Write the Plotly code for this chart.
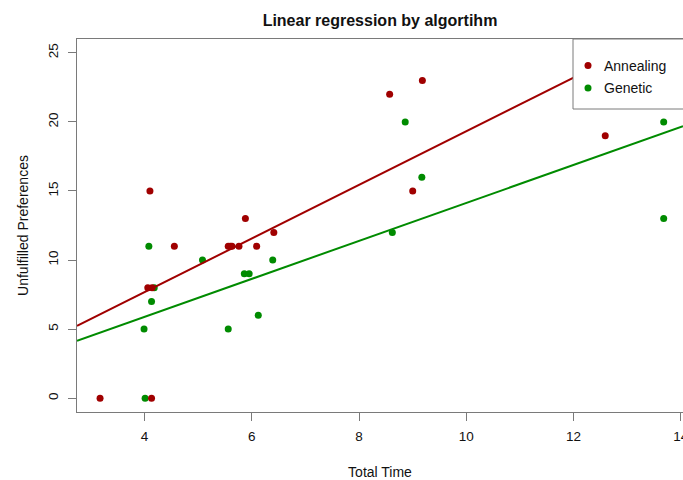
import plotly.graph_objects as go

# ---- data ----
annealing_time = [3.17, 4.13, 4.10, 4.06, 4.14, 4.555, 5.56, 5.60, 5.63, 5.76, 5.88, 6.09, 6.41, 8.57, 9.18, 9.00, 12.59]
annealing_pref = [0, 0, 15, 8, 8, 11, 11, 11, 11, 11, 13, 11, 12, 22, 23, 15, 19]

genetic_time = [4.08, 4.18, 4.13, 3.99, 4.01, 5.08, 5.56, 5.86, 5.95, 6.12, 6.39, 8.86, 9.17, 8.62, 13.68, 13.68]
genetic_pref = [11, 8, 7, 5, 0, 10, 5, 9, 9, 6, 10, 20, 16, 12, 20, 13]

# regression lines (intercept, slope)
annealing_fit = [-0.08, 1.94]
genetic_fit = [0.395, 1.374]

legend_labels = ["Annealing", "Genetic"]

x_ticks = [4, 6, 8, 10, 12, 14]
y_ticks = [0, 5, 10, 15, 20, 25]
x_range = [2.74, 14.04]
y_range = [-1, 26]

RED = "#A00000"
GREEN = "#008B00"
AX = "#7a7a7a"
TXT = "#111"
FONT = "Liberation Sans, Arial, sans-serif"

W, H = 683, 480
L, R, T, B = 77, 0, 39, 68
PW, PH = W - L - R, H - T - B


def px(xp):
    return (xp - L) / PW


def py(yp):
    return (H - B - yp) / PH


fig = go.Figure()

fig.add_trace(go.Scatter(x=genetic_time, y=genetic_pref, mode="markers", name="Genetic",
                         marker=dict(color=GREEN, size=7, line=dict(width=0)), showlegend=False))
fig.add_trace(go.Scatter(x=annealing_time, y=annealing_pref, mode="markers", name="Annealing",
                         marker=dict(color=RED, size=7, line=dict(width=0)), showlegend=False))

for fit, col in [(annealing_fit, RED), (genetic_fit, GREEN)]:
    xs = x_range
    ys = [fit[0] + fit[1] * v for v in xs]
    fig.add_trace(go.Scatter(x=xs, y=ys, mode="lines", line=dict(color=col, width=2),
                             showlegend=False, hoverinfo="skip"))

# legend box (R style, top-right, running past the right edge)
shapes = [dict(type="rect", xref="paper", yref="paper", x0=px(573), x1=px(720), y0=py(109), y1=1.0,
               line=dict(color=AX, width=1), fillcolor="white", layer="above")]
annotations = []
for i, (lab, col) in enumerate(zip(legend_labels, [RED, GREEN])):
    yc = py(65.5 + i * 22.4)
    shapes.append(dict(type="circle", xref="paper", yref="paper", xsizemode="pixel", ysizemode="pixel",
                       xanchor=px(588), yanchor=yc, x0=-3.5, x1=3.5, y0=-3.5, y1=3.5,
                       fillcolor=col, line=dict(width=0), layer="above"))
    annotations.append(dict(text=lab, xref="paper", yref="paper", x=px(602), y=yc,
                            xanchor="left", yanchor="middle", showarrow=False,
                            font=dict(size=14, family=FONT, color=TXT)))

fig.update_layout(
    width=W, height=H,
    margin=dict(l=L, r=R, t=T, b=B),
    paper_bgcolor="white", plot_bgcolor="white",
    font=dict(family=FONT, size=13.5, color=TXT),
    title=dict(text="<b>Linear regression by algortihm</b>", x=(L + W) / 2 / W, xanchor="center",
               y=1 - 20 / H, yanchor="middle", font=dict(size=16, family=FONT, color=TXT)),
    showlegend=False,
    shapes=shapes,
    annotations=annotations,
)

fig.update_xaxes(range=x_range, tickvals=x_ticks, ticks="outside", ticklen=8, tickcolor=AX,
                 showline=True, linecolor=AX, linewidth=1, mirror=True,
                 showgrid=False, zeroline=False, ticklabelstandoff=4,
                 ticklabeloverflow="allow",
                 tickfont=dict(size=13.5),
                 title=dict(text="Total Time", standoff=25, font=dict(size=14)),
                 automargin=False)
fig.update_yaxes(range=y_range, tickvals=y_ticks, ticks="outside", ticklen=8, tickcolor=AX,
                 showline=True, linecolor=AX, linewidth=1, mirror=False,
                 showgrid=False, zeroline=False, tickangle=-90, ticklabelstandoff=5,
                 tickfont=dict(size=13.5),
                 title=dict(text="Unfulfilled Preferences", standoff=13.5, font=dict(size=14)),
                 automargin=False)

# remove the browser's default 8px page margin so the figure sits at the window origin
fig.write_html("out.html", config={"displayModeBar": False},
               post_script="document.body.style.margin='0';document.body.style.overflow='hidden';")
